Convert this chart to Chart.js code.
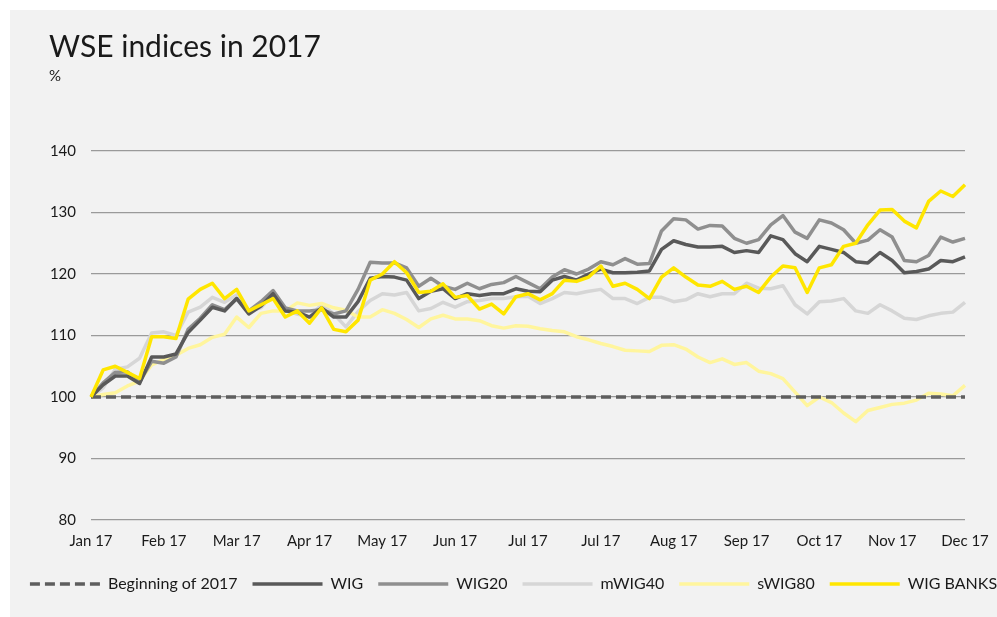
<!DOCTYPE html>
<html>
<head>
<meta charset="utf-8">
<title>WSE indices in 2017</title>
<script src="https://cdn.jsdelivr.net/npm/chart.js@4/dist/chart.umd.min.js"></script>
<style>
  html, body { margin: 0; padding: 0; background: #ffffff; overflow: hidden; }
  #wrap { position: absolute; left: 10px; top: 10px; width: 987px; height: 607px; background: #f2f2f2; overflow: hidden; }
  #wseChart { position: absolute; left: 0; top: 0; }
  .title { position: absolute; left: 39px; top: 17px; font: 30px/36px Lato, 'Open Sans', sans-serif; color: #1a1a1a; white-space: nowrap; }
  .unit { position: absolute; left: 39px; top: 56px; font: 15px/18px Lato, 'Open Sans', sans-serif; color: #1a1a1a; }
</style>
</head>
<body>
<div id="wrap">
  <canvas id="wseChart" width="1007" height="607"></canvas>
  <div class="title">WSE indices in 2017</div>
  <div class="unit">%</div>
</div>
<script>
// tick labels on the x axis, one every pointsPerMonth points
const monthLabels = ['Jan 17', 'Feb 17', 'Mar 17', 'Apr 17', 'May 17', 'Jun 17', 'Jul 17',
  'Jul 17', 'Aug 17', 'Sep 17', 'Oct 17', 'Nov 17', 'Dec 17'];
const pointsPerMonth = 6;
const yTicks = [80, 90, 100, 110, 120, 130, 140];
const beginningOf2017 = 100;

// index values (beginning of 2017 = 100)
const wig = [100, 102.0, 103.4, 103.4, 102.2, 106.5, 106.5, 107.0, 110.5, 112.5, 114.6, 114.0, 116.0,
  113.5, 114.8, 116.8, 114.0, 113.8, 113.0, 114.5, 113.0, 113.0, 115.5, 119.3, 119.6,
  119.5, 119.0, 116.0, 117.2, 117.6, 116.0, 116.8, 116.5, 116.8, 116.8, 117.6, 117.2,
  117.1, 119.0, 119.6, 119.0, 120.0, 120.8, 120.2, 120.2, 120.3, 120.5, 124.0, 125.4,
  124.8, 124.4, 124.4, 124.5, 123.5, 123.8, 123.5, 126.2, 125.6, 123.3, 122.0, 124.5,
  124.0, 123.5, 122.0, 121.8, 123.5, 122.2, 120.2, 120.4, 120.8, 122.2, 122.0, 122.8];
const wig20 = [100, 102.3, 104.0, 104.1, 102.5, 105.8, 105.5, 106.5, 111.0, 112.8, 115.0, 114.2, 116.0,
  114.0, 115.5, 117.3, 114.5, 114.0, 114.0, 114.2, 113.5, 114.0, 117.5, 121.9, 121.8,
  121.8, 121.0, 118.0, 119.3, 118.0, 117.5, 118.5, 117.6, 118.3, 118.6, 119.6, 118.6,
  117.6, 119.5, 120.7, 120.0, 120.8, 122.0, 121.5, 122.5, 121.6, 121.7, 127.0, 129.0,
  128.8, 127.3, 127.9, 127.8, 125.8, 125.0, 125.6, 128.0, 129.5, 126.8, 125.8, 128.8,
  128.3, 127.2, 125.0, 125.5, 127.2, 126.0, 122.2, 122.0, 123.0, 126.0, 125.2, 125.8];
const mwig40 = [100, 101.5, 104.5, 104.9, 106.3, 110.4, 110.6, 110.0, 113.8, 114.6, 116.2, 115.4, 116.6,
  114.0, 114.5, 116.8, 114.0, 113.5, 113.0, 115.0, 113.5, 111.4, 113.9, 115.7, 116.8,
  116.6, 117.0, 114.0, 114.4, 115.4, 114.6, 115.5, 115.7, 116.0, 116.0, 116.3, 116.4,
  115.2, 116.0, 117.0, 116.8, 117.2, 117.5, 116.0, 116.0, 115.2, 116.2, 116.2, 115.5,
  115.8, 116.8, 116.3, 116.8, 116.8, 118.5, 117.7, 117.6, 118.1, 115.0, 113.5, 115.5,
  115.6, 116.0, 114.0, 113.6, 115.0, 114.0, 112.8, 112.6, 113.2, 113.6, 113.8, 115.4];
const swig80 = [100, 100.4, 100.7, 101.8, 102.6, 105.2, 106.1, 106.8, 107.9, 108.5, 109.7, 110.2, 113.0,
  111.3, 113.6, 114.0, 114.0, 115.3, 114.9, 115.2, 114.5, 114.1, 113.0, 113.0, 114.2,
  113.6, 112.6, 111.3, 112.7, 113.3, 112.7, 112.7, 112.4, 111.6, 111.2, 111.6, 111.5,
  111.1, 110.8, 110.6, 109.8, 109.3, 108.7, 108.2, 107.6, 107.5, 107.4, 108.4, 108.5,
  107.8, 106.5, 105.6, 106.2, 105.3, 105.6, 104.2, 103.8, 103.0, 100.8, 98.6, 100.0,
  99.1, 97.4, 96.0, 97.8, 98.3, 98.8, 99.0, 99.5, 100.6, 100.5, 100.2, 101.9];
const wigBanks = [100, 104.4, 105.0, 104.0, 103.0, 109.8, 109.8, 109.5, 115.9, 117.5, 118.5, 116.0, 117.5,
  114.0, 115.0, 116.0, 113.0, 114.0, 112.0, 114.5, 111.0, 110.6, 112.5, 119.0, 120.0,
  122.0, 120.2, 117.0, 117.2, 118.4, 116.2, 116.5, 114.3, 115.1, 113.5, 116.3, 116.8,
  115.8, 116.8, 119.0, 118.8, 119.5, 121.3, 118.0, 118.5, 117.5, 116.0, 119.5, 121.0,
  119.5, 118.2, 118.0, 118.8, 117.5, 118.0, 117.0, 119.5, 121.3, 121.0, 117.0, 121.0,
  121.5, 124.5, 125.0, 128.0, 130.4, 130.5, 128.6, 127.5, 131.8, 133.5, 132.6, 134.5];

const FONT = "Lato, 'Open Sans', sans-serif";
const TEXT = '#1a1a1a';

function buildChart() {
  const labels = wig.map((_, i) => i % pointsPerMonth === 0 ? monthLabels[i / pointsPerMonth] : '');
  const baseline = wig.map(() => beginningOf2017);

  const line = (label, data, color, order, extra) => Object.assign({
    label: label,
    data: data,
    borderColor: color,
    backgroundColor: color,
    borderWidth: 3.5,
    pointRadius: 0,
    tension: 0,
    fill: false,
    order: order,
    borderJoinStyle: 'round'
  }, extra || {});

  const ctx = document.getElementById('wseChart').getContext('2d');
  new Chart(ctx, {
    type: 'line',
    data: {
      labels: labels,
      datasets: [
        line('Beginning of 2017', baseline, '#5e5e5e', 1, { borderDash: [10, 5], borderWidth: 3.5 }),
        line('WIG', wig, '#595959', 2),
        line('WIG20', wig20, '#8f8f8f', 3),
        line('mWIG40', mwig40, '#d6d6d6', 5),
        line('sWIG80', swig80, '#fff59d', 4),
        line('WIG BANKS', wigBanks, '#ffe600', 0)
      ]
    },
    options: {
      responsive: false,
      animation: false,
      layout: {
        padding: { left: 0, right: 0, top: 141, bottom: 15 }
      },
      plugins: {
        legend: {
          position: 'bottom',
          labels: {
            usePointStyle: true,
            pointStyle: 'line',
            pointStyleWidth: 70,
            padding: 15,
            color: TEXT,
            font: { family: FONT, size: 16 },
            sort: (a, b) => a.datasetIndex - b.datasetIndex,
            generateLabels: (chart) => {
              const items = Chart.defaults.plugins.legend.labels.generateLabels(chart);
              return items.map(item => {
                const ds = chart.data.datasets[item.datasetIndex];
                item.lineDash = ds.borderDash || [];
                item.lineWidth = ds.borderWidth;
                item.strokeStyle = ds.borderColor;
                return item;
              });
            }
          }
        },
        tooltip: { enabled: false }
      },
      scales: {
        x: {
          grid: { display: false, drawTicks: false },
          border: { display: false },
          ticks: {
            autoSkip: false,
            maxRotation: 0,
            padding: 12,
            color: TEXT,
            font: { family: FONT, size: 15 }
          },
          afterFit: (scale) => {
            scale.height = 41;
            scale.paddingRight = 52;
          }
        },
        y: {
          min: yTicks[0],
          max: yTicks[yTicks.length - 1],
          afterBuildTicks: (scale) => { scale.ticks = yTicks.map(v => ({ value: v })); },
          grid: { color: '#9a9a9a', lineWidth: 1.3, drawTicks: false },
          border: { display: false },
          ticks: {
            padding: 15,
            color: TEXT,
            font: { family: FONT, size: 15 }
          },
          afterFit: (scale) => { scale.width = 81; }
        }
      }
    }
  });
}

document.addEventListener('DOMContentLoaded', buildChart);
</script>
</body>
</html>
